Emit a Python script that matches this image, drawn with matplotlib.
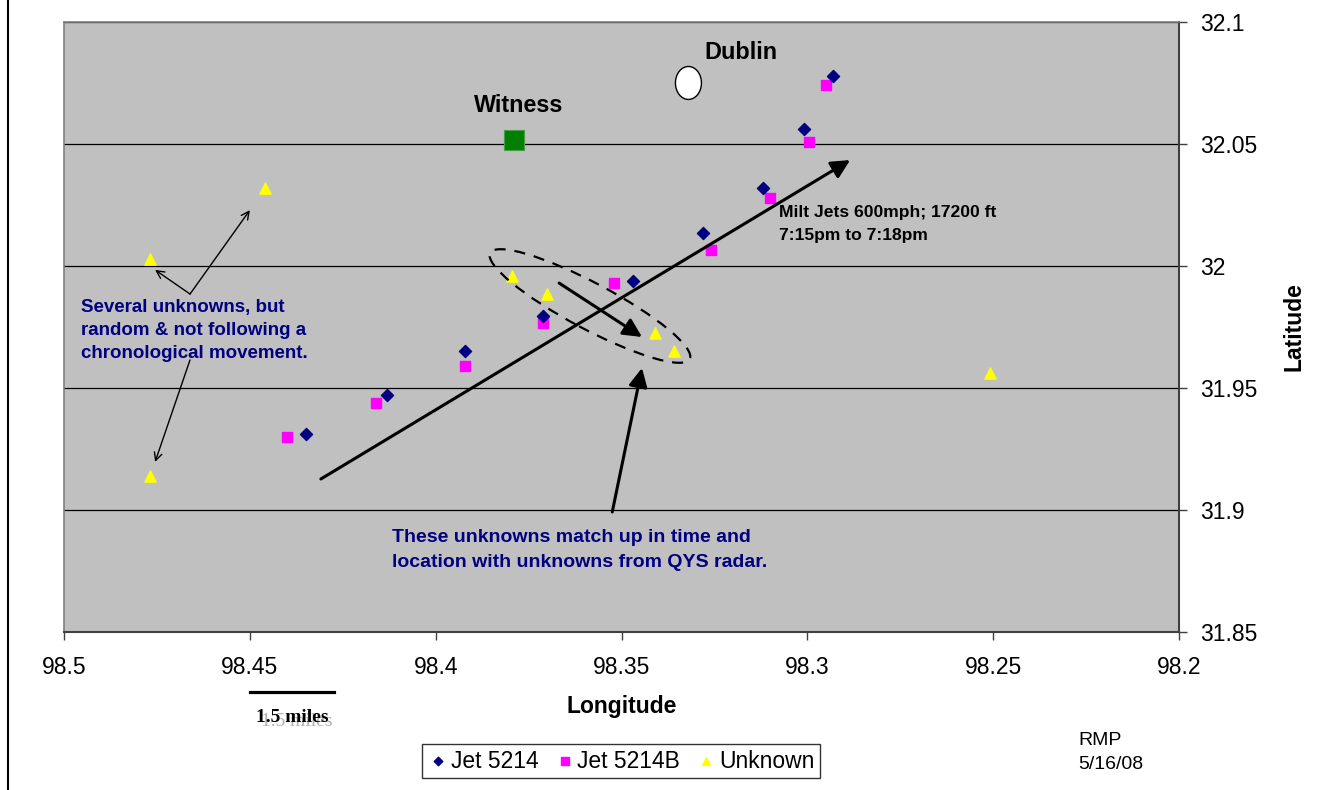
import numpy as np
import matplotlib
matplotlib.use('Agg')
import matplotlib.pyplot as plt
from matplotlib.patches import Ellipse
from matplotlib.lines import Line2D
from matplotlib.transforms import ScaledTranslation

plt.rcParams['font.family'] = ['Liberation Sans', 'DejaVu Sans']
NARROW = ['Liberation Sans Narrow', 'Liberation Sans', 'DejaVu Sans']

# radar returns (longitude W, latitude N)
jet_lon = [98.293, 98.301, 98.312, 98.328, 98.347, 98.371, 98.392, 98.413, 98.435]
jet_lat = [32.078, 32.056, 32.032, 32.0135, 31.994, 31.9795, 31.965, 31.947, 31.931]

jetb_lon = [98.295, 98.2996, 98.310, 98.326, 98.352, 98.371, 98.392, 98.416, 98.440]
jetb_lat = [32.074, 32.051, 32.028, 32.0066, 31.993, 31.9766, 31.959, 31.944, 31.930]

unk_lon = [98.477, 98.446, 98.477, 98.3795, 98.370, 98.341, 98.336, 98.251]
unk_lat = [32.003, 32.032, 31.914, 31.996, 31.9885, 31.9725, 31.965, 31.956]

witness = (98.379, 32.0516)
dublin = (98.332, 32.075)

xticks = [98.5, 98.45, 98.4, 98.35, 98.3, 98.25, 98.2]
yticks = [31.85, 31.9, 31.95, 32.0, 32.05, 32.1]

fig = plt.figure(figsize=(13.23, 7.9), dpi=100)
ax = fig.add_axes([0.0484, 0.2, 0.8428, 0.7722])
ax.set_facecolor('#C0C0C0')
ax.set_xlim(98.5, 98.2)
ax.set_ylim(31.85, 32.1)

ax.scatter(jet_lon, jet_lat, marker='D', s=38, color='#000080', label='Jet 5214', zorder=4)
ax.scatter(jetb_lon, jetb_lat, marker='s', s=55, color='#FF00FF', label='Jet 5214B', zorder=3)
ax.scatter(unk_lon, unk_lat, marker='^', s=65, color='#FFFF00', label='Unknown', zorder=4)

ax.scatter([witness[0]], [witness[1]], marker='s', s=190, color='#008000',
           edgecolors='#4a9a4a', linewidths=0.8, zorder=4)
ax.add_patch(Ellipse(dublin, 0.007, 0.0135, facecolor='white', edgecolor='black', lw=1, zorder=4))

ax.text(98.3776, 32.0656, 'Witness', ha='center', va='center', fontsize=16.8,
        fontweight='bold', family=NARROW)
ax.text(98.3178, 32.0873, 'Dublin', ha='center', va='center', fontsize=16.8,
        fontweight='bold', family=NARROW)

# axes styling
ax.set_xticks(xticks)
ax.set_xticklabels([f'{v:g}' for v in xticks])
ax.set_yticks(yticks)
ax.set_yticklabels([f'{v:g}' for v in yticks])
ax.yaxis.tick_right()
ax.yaxis.set_label_position('right')
ax.tick_params(axis='both', direction='out', length=6, width=1, labelsize=16.5, color='#404040')
ax.tick_params(axis='x', pad=11)
ax.tick_params(axis='y', pad=9)
ax.grid(axis='y', color='black', lw=0.9)
ax.set_axisbelow(True)
for side in ['top', 'left']:
    ax.spines[side].set_color('#808080')
    ax.spines[side].set_linewidth(1.2)
for side in ['bottom', 'right']:
    ax.spines[side].set_color('#404040')
    ax.spines[side].set_linewidth(1.5)

ax.set_xlabel('Longitude', fontsize=16.5, fontweight='bold', labelpad=12)
ax.set_ylabel('Latitude', fontsize=16.5, fontweight='bold', labelpad=18)

# annotations
big = dict(arrowstyle='-|>', lw=2.2, color='black', mutation_scale=28, shrinkA=0, shrinkB=0)
thin = dict(arrowstyle='->', lw=1, color='black', mutation_scale=14, shrinkA=0, shrinkB=0)
ax.annotate('', xy=(98.2885, 32.0434), xytext=(98.4309, 31.9127), arrowprops=big, zorder=5)
ax.annotate('', xy=(98.3445, 31.9709), xytext=(98.3668, 31.9930), arrowprops=big, zorder=5)
ax.annotate('', xy=(98.3445, 31.9582), xytext=(98.3525, 31.8992), arrowprops=big, zorder=5)
ax.annotate('', xy=(98.4755, 31.9984), xytext=(98.4661, 31.9885), arrowprops=thin, zorder=5)
ax.annotate('', xy=(98.4500, 32.0229), xytext=(98.4661, 31.9885), arrowprops=thin, zorder=5)
ax.annotate('', xy=(98.4755, 31.9197), xytext=(98.4661, 31.9615), arrowprops=thin, zorder=5)

ell_tr = fig.dpi_scale_trans + ScaledTranslation(98.3585, 31.9836, ax.transData)
ax.add_patch(Ellipse((0, 0), 2.26, 0.46, angle=-28, transform=ell_tr, fill=False,
                     edgecolor='black', lw=1.6, ls=(0, (5, 4)), zorder=5))

ax.text(98.4954, 31.9736, 'Several unknowns, but\nrandom & not following a\nchronological movement.',
        ha='left', va='center', fontsize=13.5, fontweight='bold', color='#000080',
        linespacing=1.46, family=NARROW)
ax.text(98.4118, 31.8836, 'These unknowns match up in time and\nlocation with unknowns from QYS radar.',
        ha='left', va='center', fontsize=14, fontweight='bold', color='#000080',
        linespacing=1.58, family=NARROW)
ax.text(98.3076, 32.0172, 'Milt Jets 600mph; 17200 ft\n7:15pm to 7:18pm',
        ha='left', va='center', fontsize=12.6, fontweight='bold', color='black',
        linespacing=1.7, family=NARROW)

# scale bar
fig.add_artist(Line2D([250 / 1323, 334 / 1323], [1 - 692 / 790] * 2, color='black', lw=2.3))
fig.text(297 / 1323, 1 - 722 / 790, '1.5 miles', ha='center', va='center', fontsize=14,
         color='#b0b0b0', family=['Liberation Serif', 'DejaVu Serif'])
fig.text(292 / 1323, 1 - 718 / 790, '1.5 miles', ha='center', va='center', fontsize=14,
         fontweight='bold', color='black', family=['Liberation Serif', 'DejaVu Serif'])

leg = fig.legend(loc='center', bbox_to_anchor=(621 / 1323, 1 - 761 / 790), ncol=3,
                 fontsize=16.5, frameon=True, fancybox=False, edgecolor='black',
                 handletextpad=0.1, columnspacing=0.7, borderpad=0.25,
                 markerscale=0.7, handlelength=0.9)
leg.get_frame().set_linewidth(1)

fig.text(1078 / 1323, 1 - 752.5 / 790, 'RMP\n5/16/08', ha='left', va='center', fontsize=14,
         linespacing=1.5)

fig.add_artist(Line2D([8 / 1323] * 2, [0, 1], color='black', lw=1.5))

fig.savefig('out.png', dpi=100)
